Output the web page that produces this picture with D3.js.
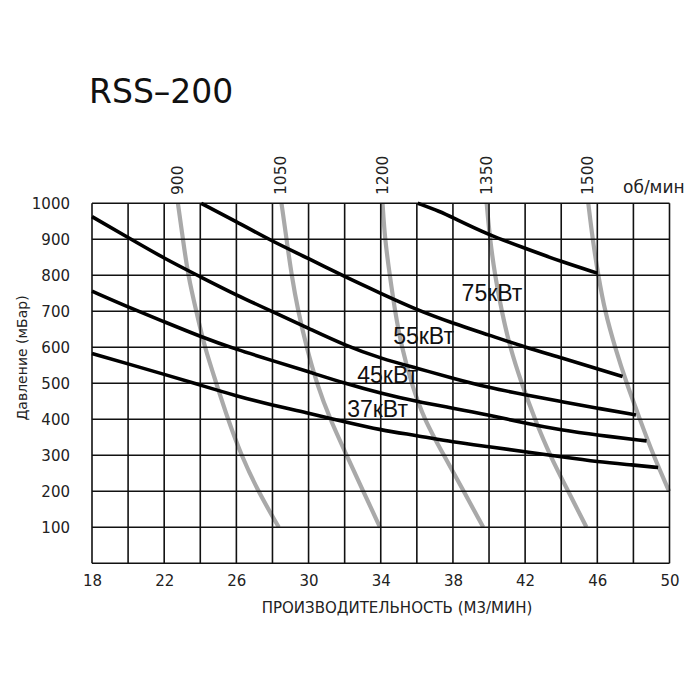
<!DOCTYPE html>
<html>
<head>
<meta charset="utf-8">
<script src="https://cdn.jsdelivr.net/npm/d3@7"></script>
<style>
  html, body { margin: 0; padding: 0; background: #fff; }
  svg { display: block; }
</style>
</head>
<body>
<svg id="chart" width="700" height="700"></svg>
<script>
// ---------- DATA ----------
const title = "RSS–200";
const xTitle = "ПРОИЗВОДИТЕЛЬНОСТЬ (М3/МИН)";
const yTitle = "Давление (мБар)";
const rpmUnit = "об/мин";

const xTicks = [18, 22, 26, 30, 34, 38, 42, 46, 50];
const yTicks = [100, 200, 300, 400, 500, 600, 700, 800, 900, 1000];

// Power curves: [flow m3/min, pressure mbar]
const p75 = [[36.05,1000],[37.3,977],[38,960],[40,912],[42,875],[44,838],[46,806]];
const p55 = [[24.05,1000],[26,949],[28,894],[30,847],[32,796],[34,750],[36,704],[38,667],[40,634],[42,600],[44,571],[46,540],[47.4,519]];
const p45 = [[18,963],[20,905],[22,847],[24,796],[26,745],[28,699],[30,653],[32,606],[34,569],[36,542],[38,514],[40,488],[42,468],[44,449],[46,431],[48.14,412]];
const p37 = [[18,756],[20,712],[22,671],[24,630],[26,594],[28,563],[30,532],[32,500],[34,472],[36,449],[38,431],[40,412],[42,389],[44,370],[46,356],[48.73,340]];
const p30 = [[18,583],[20,554],[22,525],[24,495],[26,465],[28,439],[30,417],[32,393],[34,370],[36,355],[38,337],[40,324],[42,310],[44,296],[46,282],[48,273],[49.37,266]];
const powerCurves = [p75, p55, p45, p37, p30];

// Power labels: text, anchor flow, anchor pressure
const powerLabels = ["75кВт", "55кВт", "45кВт", "37кВт"];
const powerLabelX = [38.48, 34.69, 32.70, 32.14];
const powerLabelY = [729, 609, 500, 407];

// Fan speed curves: [flow, pressure]
const rpmNames = ["900", "1050", "1200", "1350", "1500"];
const r900  = [[22.76,1000],[23.04,900],[23.32,800],[23.78,700],[24.24,600],[24.89,500],[25.53,400],[26.27,300],[27.2,200],[28.35,100]];
const r1050 = [[28.5,1000],[28.78,900],[29.06,800],[29.42,700],[29.89,600],[30.45,500],[31.19,400],[32.11,300],[33.03,200],[33.96,100]];
const r1200 = [[34.1,1000],[34.23,900],[34.5,800],[34.79,700],[35.16,600],[35.7,500],[36.4,400],[37.5,300],[38.6,200],[39.68,100]];
const r1350 = [[39.87,1000],[40.05,900],[40.33,800],[40.7,700],[41.16,600],[41.8,500],[42.54,400],[43.37,300],[44.39,200],[45.4,100]];
const r1500 = [[45.5,1000],[45.74,900],[46.05,800],[46.42,700],[46.98,600],[47.62,500],[48.36,400],[49.1,300],[49.98,200]];
const rpmCurves = [r900, r1050, r1200, r1350, r1500];

// ---------- CHART ----------
const svg = d3.select("#chart");
const font = "'DejaVu Sans', 'Liberation Sans', Arial, sans-serif";
const labelFont = "'Liberation Sans', Arial, sans-serif";
const mLeft = 92, mRight = 669.5, mTop = 203.3, mBottom = 563.3;

const x = d3.scaleLinear().domain([18, 50]).range([mLeft, mRight]);
const y = d3.scaleLinear().domain([0, 1000]).range([mBottom, mTop]);

// Title
svg.append("text").attr("x", 89).attr("y", 103)
  .attr("font-family", font).attr("font-size", 33).attr("fill", "#111")
  .text(title);

// Grey rpm curves (behind grid)
const rpmLine = d3.line().x(d => x(d[0])).y(d => y(d[1])).curve(d3.curveBasis);
svg.append("g").selectAll("path").data(rpmCurves).join("path")
  .attr("d", rpmLine)
  .attr("fill", "none").attr("stroke", "#a9a9a9").attr("stroke-width", 4.2);

// Grid
const grid = svg.append("g").attr("stroke", "#111").attr("stroke-width", 1.6);
grid.selectAll("line.v").data(d3.range(18, 50.01, 2)).join("line").attr("class", "v")
  .attr("x1", d => x(d)).attr("x2", d => x(d)).attr("y1", mTop).attr("y2", mBottom);
grid.selectAll("line.h").data(d3.range(0, 1000.1, 100)).join("line").attr("class", "h")
  .attr("y1", d => y(d)).attr("y2", d => y(d)).attr("x1", mLeft).attr("x2", mRight);

// Power curves
const pLine = d3.line().x(d => x(d[0])).y(d => y(d[1])).curve(d3.curveBasis);
svg.append("g").selectAll("path").data(powerCurves).join("path")
  .attr("d", pLine).attr("fill", "none").attr("stroke", "#000")
  .attr("stroke-width", 3.6).attr("stroke-linecap", "butt");

// Power labels
svg.append("g").selectAll("text").data(powerLabels).join("text")
  .attr("x", (d, i) => x(powerLabelX[i])).attr("y", (d, i) => y(powerLabelY[i]))
  .attr("font-family", labelFont)
  .attr("font-size", 23).attr("fill", "#111").text(d => d);

// Axes (labels only)
const xAxis = d3.axisBottom(x).tickValues(xTicks).tickSize(0).tickPadding(12).tickFormat(d3.format("d"));
const gx = svg.append("g").attr("transform", `translate(0,${mBottom})`).call(xAxis);
gx.select(".domain").remove();
gx.selectAll("text").attr("font-family", font).attr("font-size", 15).attr("fill", "#222");

const yAxis = d3.axisLeft(y).tickValues(yTicks).tickSize(0).tickPadding(22).tickFormat(d3.format("d"));
const gy = svg.append("g").attr("transform", `translate(${mLeft},0)`).call(yAxis);
gy.select(".domain").remove();
gy.selectAll("text").attr("font-family", font).attr("font-size", 15).attr("fill", "#222");

// Axis titles
svg.append("text").attr("x", 397).attr("y", 613)
  .attr("text-anchor", "middle").attr("font-family", font).attr("font-size", 15)
  .attr("fill", "#222").text(xTitle);
svg.append("text").attr("transform", "translate(27,358) rotate(-90)")
  .attr("text-anchor", "middle").attr("font-family", font).attr("font-size", 14)
  .attr("fill", "#222").text(yTitle);

// rpm labels on top
svg.append("g").selectAll("text").data(rpmNames).join("text")
  .attr("transform", (d, i) => `translate(${x(rpmCurves[i][0][0]) + 5},195) rotate(-90)`)
  .attr("font-family", font).attr("font-size", 15.5).attr("fill", "#222").text(d => d);
svg.append("text").attr("x", 623).attr("y", 193)
  .attr("font-family", font).attr("font-size", 17).attr("fill", "#222").text(rpmUnit);
</script>
</body>
</html>
